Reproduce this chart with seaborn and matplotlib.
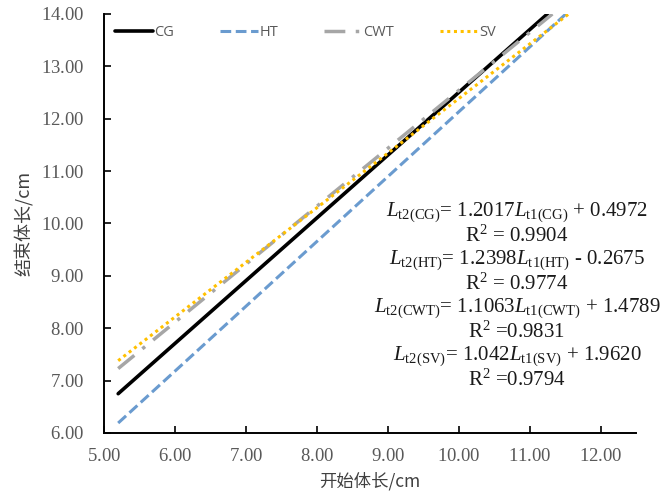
import numpy as np
import pandas as pd
import matplotlib
matplotlib.use("Agg")
import matplotlib.pyplot as plt
import seaborn as sns

# ---------------- data ----------------
groups = ["CG", "HT", "CWT", "SV"]
x_start = [5.2, 5.2, 5.2, 5.2]
x_end = [11.25, 11.51, 11.32, 11.55]
y_start = [6.75, 6.19, 7.23, 7.38]
y_end = [14.0, 14.0, 14.0, 14.0]

equations = [
    r"$L_{\rm t2(CG)}$= 1.2017$L_{\rm t1(CG)}$ + 0.4972",
    r"R$^{2}$ = 0.9904",
    r"$L_{\rm t2(HT)}$= 1.2398$L_{\rm t1(HT)}$ - 0.2675",
    r"R$^{2}$ = 0.9774",
    r"$L_{\rm t2(CWT)}$= 1.1063$L_{\rm t1(CWT)}$ + 1.4789",
    r"R$^{2}$ =0.9831",
    r"$L_{\rm t2(SV)}$= 1.042$L_{\rm t1(SV)}$ + 1.9620",
    r"R$^{2}$ =0.9794",
]

x_ticks = [5, 6, 7, 8, 9, 10, 11, 12]
y_ticks = [6, 7, 8, 9, 10, 11, 12, 13, 14]

# ---------------- style ----------------
sns.set_theme(style="ticks")
plt.rcParams["font.family"] = "serif"
plt.rcParams["font.serif"] = ["Liberation Serif", "DejaVu Serif"]
plt.rcParams["mathtext.fontset"] = "custom"
plt.rcParams["mathtext.rm"] = "Liberation Serif"
plt.rcParams["mathtext.it"] = "Liberation Serif:italic"
cjk = ["Noto Sans CJK SC", "DejaVu Sans"]

colors = {"CG": "#000000", "HT": "#6A9BCF", "CWT": "#A6A6A6", "SV": "#FFC000"}
dashes = {"CG": "-", "HT": (0, (3.5, 1.5)), "CWT": (0, (6, 3, 1, 3)), "SV": (0, (1, 1.2))}
widths = {"CG": 2.6, "HT": 2.2, "CWT": 2.5, "SV": 2.2}

fig = plt.figure(figsize=(6.64, 4.99), dpi=100)
ax = fig.add_axes([0.1566, 0.1323, 0.8014, 0.8397])

rows = []
for g, x0, x1, y0, y1 in zip(groups, x_start, x_end, y_start, y_end):
    rows.append({"group": g, "x": x0, "y": y0})
    rows.append({"group": g, "x": x1, "y": y1})
df = pd.DataFrame(rows)

for g in groups:
    sub = df[df["group"] == g]
    sns.lineplot(data=sub, x="x", y="y", ax=ax, color=colors[g],
                 linestyle=dashes[g], linewidth=widths[g], label=g)

ax.set_xlim(5, 12.5)
ax.set_ylim(6, 14)
ax.set_xticks(x_ticks)
ax.set_yticks(y_ticks)
# tick labels through mathtext so they use the same serif face as the equations
ax.set_xticklabels([r"$\mathrm{%.2f}$" % v for v in x_ticks], fontsize=13.5, color="#595959")
ax.set_yticklabels([r"$\mathrm{%.2f}$" % v for v in y_ticks], fontsize=13.5, color="#595959")
ax.tick_params(direction="in", length=5, width=1.2, colors="#000000", labelcolor="#595959")
ax.tick_params(axis="x", pad=11)
ax.tick_params(axis="y", pad=14)
for s in ["left", "bottom"]:
    ax.spines[s].set_linewidth(1.4)
    ax.spines[s].set_color("#000000")
sns.despine(ax=ax)

ax.set_xlabel("开始体长/cm", fontsize=12.5, color="#404040", family=cjk, labelpad=5)
ax.set_ylabel("结束体长/cm", fontsize=13, color="#404040", family=cjk, labelpad=5)

leg = ax.legend(loc="upper left", ncol=4, frameon=False, handlelength=2.6,
                handletextpad=0.1, columnspacing=3.15, borderaxespad=0.35,
                prop={"family": ["Open Sans", "DejaVu Sans"], "size": 10.5})
for t in leg.get_texts():
    t.set_color("#595959")

# regression equations
y_pos = 10.22
for line in equations:
    ax.text(10.82, y_pos, line, ha="center", va="center", fontsize=15, color="#1a1a1a")
    y_pos -= 0.458

fig.savefig("out.png", dpi=100)
